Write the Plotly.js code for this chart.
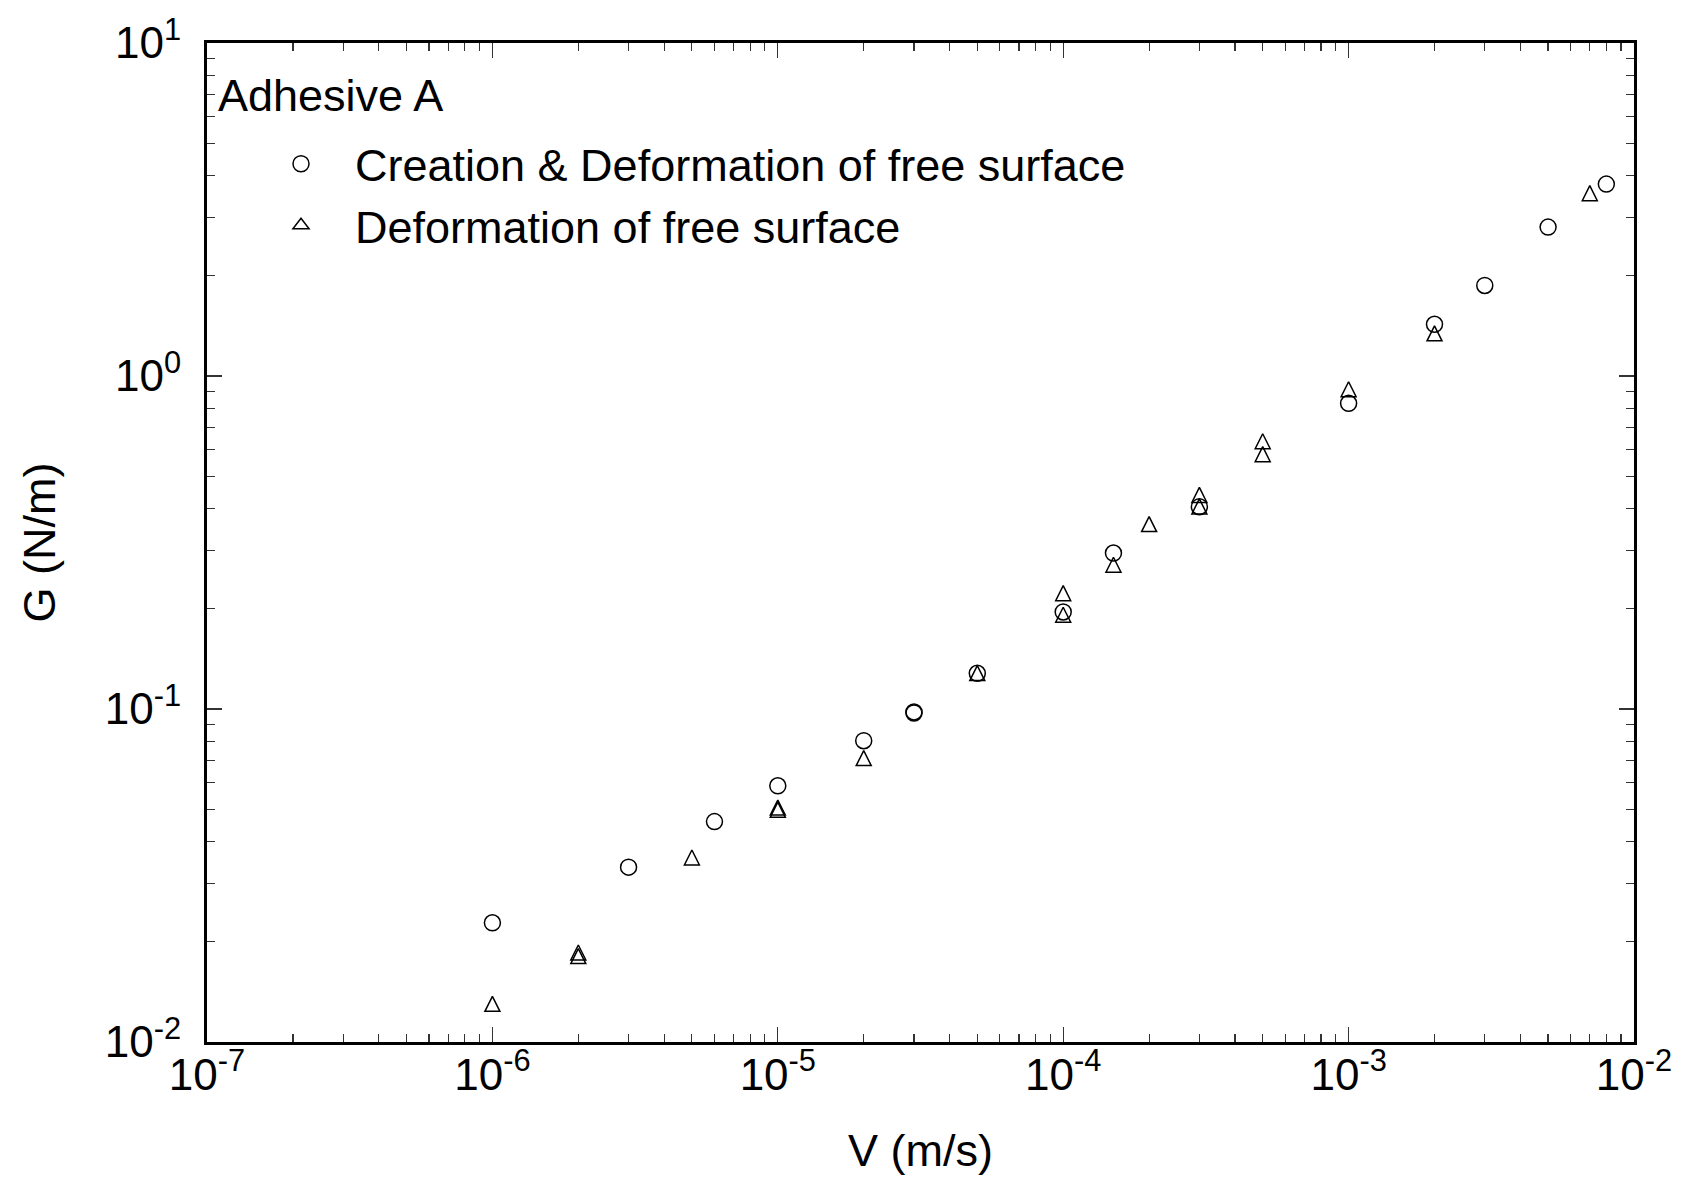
<!DOCTYPE html>
<html>
<head>
<meta charset="utf-8">
<script src="https://cdn.plot.ly/plotly-3.0.1.min.js"></script>
<style>html,body{margin:0;padding:0;background:#fff;}#chart{width:1688px;height:1184px;}</style>
</head>
<body>
<div id="chart"></div>
<script>
// Series 1: Creation & Deformation of free surface (circles)
const circleV = [1e-6, 3e-6, 6e-6, 1e-5, 2e-5, 3e-5, 3e-5, 5e-5, 1e-4, 1.5e-4, 3e-4, 1e-3, 2e-3, 3e-3, 5e-3, 8e-3];
const circleG = [0.0228, 0.0335, 0.0459, 0.0588, 0.0803, 0.098, 0.0973, 0.128, 0.1956, 0.294, 0.405, 0.828, 1.43, 1.87, 2.80, 3.77];
// Series 2: Deformation of free surface (triangles)
const triV = [1e-6, 2e-6, 2e-6, 5e-6, 1e-5, 1e-5, 2e-5, 5e-5, 1e-4, 1e-4, 1.5e-4, 2e-4, 3e-4, 3e-4, 5e-4, 5e-4, 1e-3, 2e-3, 7e-3];
const triG = [0.0128, 0.01825, 0.0178, 0.0352, 0.0497, 0.0490, 0.070, 0.126, 0.219, 0.1886, 0.2665, 0.353, 0.432, 0.399, 0.626, 0.5725, 0.897, 1.32, 3.48];

const seriesNames = ['Creation & Deformation of free surface', 'Deformation of free surface'];
const panelLabel = 'Adhesive A';
const xTitle = 'V (m/s)';
const yTitle = 'G (N/m)';
const xTickVals = [1e-7, 1e-6, 1e-5, 1e-4, 1e-3, 1e-2];
const xTickText = ['10<sup>-7</sup>', '10<sup>-6</sup>', '10<sup>-5</sup>', '10<sup>-4</sup>', '10<sup>-3</sup>', '10<sup>-2</sup>'];
const yTickVals = [1e-2, 1e-1, 1e0, 1e1];
const yTickText = ['10<sup>-2</sup>', '10<sup>-1</sup>', '10<sup>0</sup>', '10<sup>1</sup>'];

const FONT = 'Liberation Sans, Arial, Helvetica, sans-serif';
const W = 1688, H = 1184;
const L = 207, R = 54, T = 43, B = 142;
const PW = W - L - R, PH = H - T - B;

const traces = [
  {
    x: circleV, y: circleG, name: seriesNames[0], type: 'scatter', mode: 'markers',
    marker: {symbol: 'circle-open', size: 16, color: '#000', line: {width: 1.5, color: '#000'}}
  },
  {
    x: triV, y: triG, name: seriesNames[1], type: 'scatter', mode: 'markers', showlegend: false,
    legendgroup: 'tri',
    marker: {symbol: 'arrow-down-open', angle: 180, standoff: 10, size: 15, color: '#000', line: {width: 1.5, color: '#000'}}
  },
  {
    // legend entry for the triangle series (legend symbols ignore standoff)
    x: [null], y: [null], name: seriesNames[1], type: 'scatter', mode: 'markers',
    legendgroup: 'tri', hoverinfo: 'skip',
    marker: {symbol: 'triangle-up-open', size: 14, color: '#000', line: {width: 1.5, color: '#000'}}
  }
];

const axisCommon = {
  type: 'log',
  showgrid: false,
  zeroline: false,
  showline: true,
  linecolor: '#000',
  linewidth: 3,
  mirror: 'allticks',
  ticks: 'inside',
  ticklen: 15,
  tickwidth: 1.2,
  tickcolor: '#333',
  tickmode: 'array',
  tickfont: {family: FONT, size: 44, color: '#000'},
  minor: {ticks: 'inside', ticklen: 8, tickwidth: 1.2, tickcolor: '#333', dtick: 'D1', showgrid: false}
};

const layout = {
  width: W, height: H,
  margin: {l: L, r: R, t: T, b: B, pad: 0},
  paper_bgcolor: '#fff', plot_bgcolor: '#fff',
  font: {family: FONT, size: 44, color: '#000'},
  showlegend: true,
  xaxis: Object.assign({}, axisCommon, {
    range: [-7, -2],
    tickvals: xTickVals, ticktext: xTickText,
    ticklabelstandoff: -8,
    title: {text: xTitle, font: {family: FONT, size: 45, color: '#000'}, standoff: 37}
  }),
  yaxis: Object.assign({}, axisCommon, {
    range: [-2, 1],
    tickvals: yTickVals, ticktext: yTickText,
    ticklabelstandoff: 14,
    title: {text: yTitle, font: {family: FONT, size: 45, color: '#000'}, standoff: 36}
  }),
  legend: {
    xref: 'paper', yref: 'paper',
    x: (247 - L) / PW, y: 1 - (128 - T) / PH, xanchor: 'left', yanchor: 'top',
    bgcolor: 'rgba(0,0,0,0)', borderwidth: 0,
    itemwidth: 98, tracegroupgap: 0,
    font: {family: FONT, size: 45, color: '#000'}
  },
  annotations: [{
    text: panelLabel, xref: 'paper', yref: 'paper', x: (216 - L) / PW, y: 1 - (95 - T) / PH,
    xanchor: 'left', yanchor: 'middle', showarrow: false,
    font: {family: FONT, size: 45, color: '#000'}
  }]
};

Plotly.newPlot('chart', traces, layout, {staticPlot: true, displayModeBar: false});
</script>
</body>
</html>
